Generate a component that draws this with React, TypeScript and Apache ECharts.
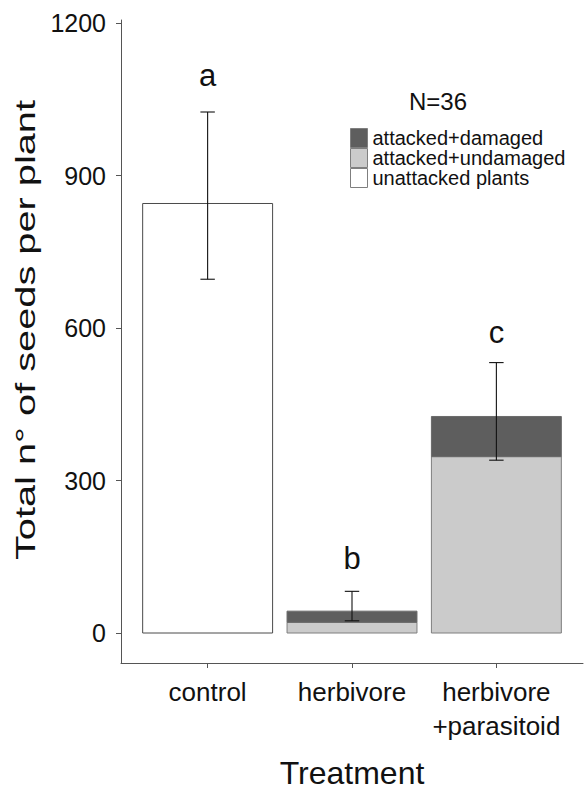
import React, { useEffect, useRef } from "react";
import * as echarts from "echarts";

const categories = ["control", "herbivore", "herbivore\n+parasitoid"];
const positions = [1, 2, 3];
const unattacked = [845, 0, 0];
const attackedUndamaged = [0, 21, 347];
const attackedDamaged = [0, 22, 79];
const errLow = [696, 24, 340];
const errHigh = [1025, 82, 532];
const letters = ["a", "b", "c"];
const letterY = [1096, 146, 592];
const yTicks = [0, 300, 600, 900, 1200];
const seriesNames = ["unattacked plants", "attacked+undamaged", "attacked+damaged"];

const FONT = "'Liberation Sans', Arial, Helvetica, sans-serif";
const BAR_HALF = 0.45;
const CAP_HALF = 0.05;

export default function App() {
  const ref = useRef<HTMLDivElement>(null);
  useEffect(() => {
    document.body.style.margin = "0";
    if (!ref.current) return;
    const chart = echarts.init(ref.current, undefined, { renderer: "svg" });

    const layers = [unattacked, attackedUndamaged, attackedDamaged];
    const fills = ["#ffffff", "#cbcbcb", "#5e5e5e"];
    const strokes = ["#4a4a4a", "#7f7f7f", "#6a6a6a"];
    const bases = positions.map(() => 0);
    const barSeries = layers.map((vals, li) => {
      const data = positions.map((x, i) => {
        const b = bases[i];
        const t = b + vals[i];
        bases[i] = t;
        return [x, b, t];
      });
      return {
        type: "custom",
        name: seriesNames[li],
        itemStyle: { color: fills[li], borderColor: strokes[li] },
        encode: { x: 0, y: [1, 2] },
        data,
        z: 2,
        renderItem: (params: any, api: any) => {
          const x = api.value(0);
          const y0 = api.value(1);
          const y1 = api.value(2);
          if (y1 <= y0) return null;
          const p0 = api.coord([x - BAR_HALF, y1]);
          const p1 = api.coord([x + BAR_HALF, y0]);
          return {
            type: "rect",
            shape: { x: p0[0], y: p0[1], width: p1[0] - p0[0], height: p1[1] - p0[1] },
            style: { fill: fills[li], stroke: strokes[li], lineWidth: 1 },
          };
        },
      };
    });

    const errSeries = {
      type: "custom",
      name: "error",
      z: 5,
      encode: { x: 0, y: [1, 2] },
      data: positions.map((x, i) => [x, errLow[i], errHigh[i]]),
      renderItem: (params: any, api: any) => {
        const x = api.value(0);
        const lo = api.coord([x, api.value(1)]);
        const hi = api.coord([x, api.value(2)]);
        const loL = api.coord([x - CAP_HALF, api.value(1)]);
        const loR = api.coord([x + CAP_HALF, api.value(1)]);
        const hiL = api.coord([x - CAP_HALF, api.value(2)]);
        const hiR = api.coord([x + CAP_HALF, api.value(2)]);
        const st = { stroke: "#111", lineWidth: 1.1 };
        return {
          type: "group",
          children: [
            { type: "line", shape: { x1: lo[0], y1: lo[1], x2: hi[0], y2: hi[1] }, style: st },
            { type: "line", shape: { x1: loL[0], y1: loL[1], x2: loR[0], y2: loR[1] }, style: st },
            { type: "line", shape: { x1: hiL[0], y1: hiL[1], x2: hiR[0], y2: hiR[1] }, style: st },
          ],
        };
      },
    };

    const letterSeries = {
      type: "custom",
      name: "letters",
      z: 6,
      encode: { x: 0, y: 1 },
      data: positions.map((x, i) => [x, letterY[i]]),
      renderItem: (params: any, api: any) => {
        const p = api.coord([api.value(0), api.value(1)]);
        return {
          type: "text",
          x: p[0],
          y: p[1],
          style: {
            text: letters[params.dataIndex],
            fontSize: 31,
            fontFamily: FONT,
            fill: "#111",
            align: "center",
            verticalAlign: "middle",
          },
        };
      },
    };

    chart.setOption({
      animation: false,
      backgroundColor: "#ffffff",
      grid: { left: 121, right: 4, top: 20, bottom: 133, outerBoundsMode: "none" },
      xAxis: {
        type: "value",
        min: 0.4,
        max: 3.6,
        name: "Treatment",
        nameLocation: "middle",
        nameGap: 94,
        nameTextStyle: { fontSize: 32, fontFamily: FONT, color: "#111" },
        axisLine: { show: true, onZero: false, lineStyle: { color: "#555", width: 1 } },
        axisTick: { show: true, length: 5, customValues: positions, lineStyle: { color: "#555" } },
        axisLabel: {
          customValues: positions,
          formatter: (v: number) => {
            const i = positions.indexOf(v);
            return i >= 0 ? categories[i] : "";
          },
          fontSize: 26,
          lineHeight: 34,
          fontFamily: FONT,
          color: "#111",
          margin: 12,
        },
        splitLine: { show: false },
      },
      yAxis: {
        type: "value",
        min: -59,
        max: 1206,
        axisLine: { show: true, onZero: false, lineStyle: { color: "#555", width: 1 } },
        axisTick: { show: true, length: 5, customValues: yTicks, lineStyle: { color: "#555" } },
        axisLabel: {
          customValues: yTicks,
          formatter: (v: number) => String(v),
          fontSize: 25,
          fontFamily: FONT,
          color: "#111",
          margin: 15,
        },
        splitLine: { show: false },
      },
      legend: {
        show: true,
        orient: "vertical",
        left: 350,
        top: 128,
        padding: 0,
        itemGap: 0,
        itemWidth: 17,
        itemHeight: 19,
        icon: "rect",
        selectedMode: false,
        data: [seriesNames[2], seriesNames[1], seriesNames[0]],
        itemStyle: { borderColor: "#7f7f7f", borderWidth: 1 },
        textStyle: { fontSize: 20, lineHeight: 20, fontFamily: FONT, color: "#111", padding: [0, 0, 0, 0] },
      },
      graphic: [
        {
          type: "text",
          x: 438,
          y: 101,
          style: {
            text: "N=36",
            fontSize: 24,
            fontFamily: FONT,
            fill: "#111",
            align: "center",
            verticalAlign: "middle",
          },
        },
        {
          type: "text",
          x: 25,
          y: 330,
          rotation: Math.PI / 2,
          scaleX: 1.42,
          style: {
            text: "Total n° of seeds per plant",
            fontSize: 28,
            fontFamily: FONT,
            fill: "#111",
            align: "center",
            verticalAlign: "middle",
          },
        },
      ],
      series: [...barSeries, errSeries, letterSeries],
    });
    return () => chart.dispose();
  }, []);
  return <div ref={ref} style={{ width: 587, height: 796 }} />;
}
